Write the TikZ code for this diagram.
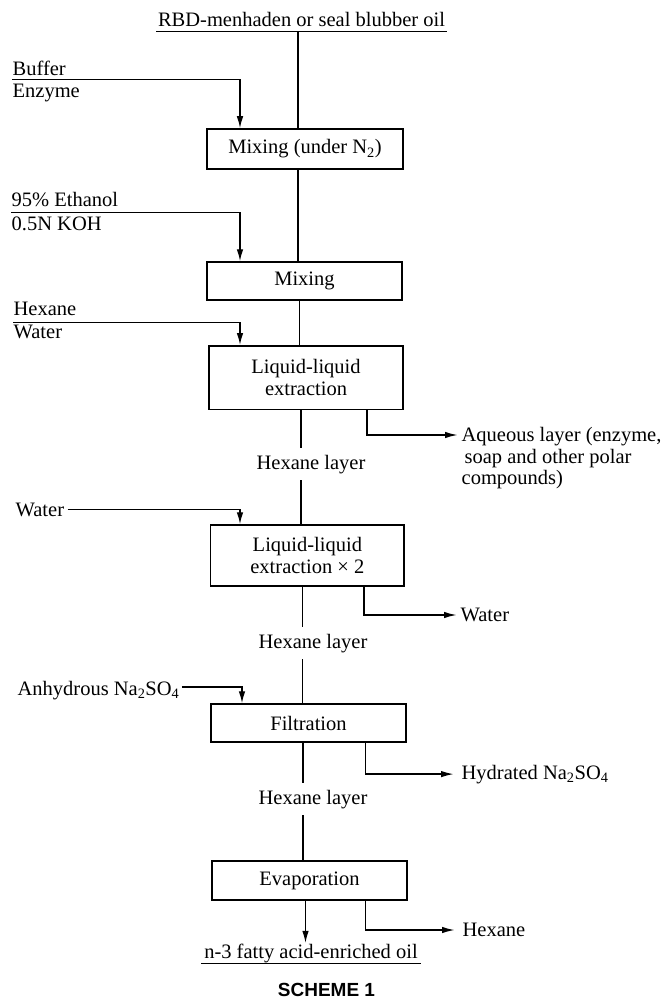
\documentclass[tikz,border=0pt]{standalone}
\usepackage{fontspec}
\setmainfont{Liberation Serif}
\newfontfamily\schemefont{Liberation Sans}
\usetikzlibrary{arrows.meta,calc}
\begin{document}
\begin{tikzpicture}[x=1pt,y=-1pt, line width=1.3pt,
  font=\fontsize{20.5}{21.5}\selectfont,
  box/.style={draw, line width=1.5pt, inner sep=0pt, align=center},
  lbl/.style={inner sep=0pt},
  hl/.style={inner xsep=0pt, inner ysep=6pt, anchor=base},
  arr/.style={-{Latex[length=12pt,width=6.5pt]}},
  outarr/.style={line width=1.7pt, -{Latex[length=13pt,width=6.5pt]}}]
\useasboundingbox[fill=white] (0,0) rectangle (661,1000);

% source and product
\node[lbl, anchor=base, minimum width=289pt, text depth=4pt] (src) at (301.5,26.7) {RBD-menhaden or seal blubber oil};
\draw (src.south west) -- (src.south east);
\node[lbl, anchor=base, minimum width=218pt, text depth=4.7pt] (oil) at (311,958) {n-3 fatty acid-enriched oil};
\draw (oil.south west) -- (oil.south east);
\node[lbl, anchor=base, font=\schemefont\bfseries\fontsize{19}{19}\selectfont] (sch) at (326.5,996) {SCHEME 1};

% process boxes
\node[box, minimum width=196pt, minimum height=40pt] (b1) at (305,149) {Mixing (under N\textsubscript{2})};
\node[box, minimum width=195pt, minimum height=38pt] (b2) at (304.5,281) {Mixing};
\node[box, minimum width=194pt, minimum height=63.5pt] (b3) at (306,377.5) {Liquid-liquid\\extraction};
\node[box, minimum width=193.5pt, minimum height=61pt] (b4) at (307.4,555.5) {Liquid-liquid\\extraction × 2};
\node[box, minimum width=195pt, minimum height=38pt] (b5) at (308.5,723) {Filtration};
\node[box, minimum width=195pt, minimum height=39pt] (b6) at (309.5,880.5) {Evaporation};

% intermediate labels
\node[hl] (h1) at (311,469) {Hexane layer};
\node[hl] (h2) at (313,648) {Hexane layer};
\node[hl] (h3) at (313,804) {Hexane layer};

% main stream
\coordinate (c0) at ([xshift=-7pt]b1.north);
\draw (c0) -- (c0 |- src.south);
\coordinate (c1) at ([xshift=-7pt]b1.south);
\draw (c1) -- (c1 |- b2.north);
\coordinate (c2) at ([xshift=-5pt]b2.south);
\draw (c2) -- (c2 |- b3.north);
\coordinate (c3) at ([xshift=-5pt]b3.south);
\draw (c3) -- (c3 |- h1.north);
\draw (c3 |- h1.south) -- (c3 |- b4.north);
\coordinate (c4) at ([xshift=-4.7pt]b4.south);
\draw (c4) -- (c4 |- h2.north);
\draw (c4 |- h2.south) -- (c4 |- b5.north);
\coordinate (c5) at ([xshift=-5.5pt]b5.south);
\draw (c5) -- (c5 |- h3.north);
\draw (c5 |- h3.south) -- (c5 |- b6.north);
\coordinate (c6) at ([xshift=-4pt]b6.south);
\draw[arr] (c6) -- (c6 |- oil.north);

% inputs
\node[lbl, anchor=base west, text depth=3.7pt] (buf) at (12,75.3) {Buffer};
\node[lbl, anchor=base west] (enz) at (12,98) {Enzyme};
\draw[arr] (buf.south west) -| ([xshift=-65pt]b1.north);

\node[lbl, anchor=base west, text depth=5pt] (eth) at (11,207) {95\% Ethanol};
\node[lbl, anchor=base west] (koh) at (11,230) {0.5N KOH};
\draw[arr] (eth.south west) -| ([xshift=-64.5pt]b2.north);

\node[lbl, anchor=base west, text depth=6.5pt] (hex) at (13,315.3) {Hexane};
\node[lbl, anchor=base west] (wat) at (13,338) {Water};
\draw[arr] (hex.south west) -| ([xshift=-66pt]b3.north);

\node[lbl, anchor=base west] (w2) at (15,516) {Water};
\draw[arr] ([xshift=3pt]w2.east) -| ([xshift=-67.4pt]b4.north);

\node[lbl, anchor=base west] (anh) at (17,695) {Anhydrous Na\textsubscript{2}SO\textsubscript{4}};
\draw[arr] ([xshift=2pt,yshift=3pt]anh.east) -| ([xshift=-66.5pt]b5.north);

% outputs
\node[lbl, anchor=north west, align=left] (aq) at (461,427) {Aqueous layer (enzyme,\\\hspace*{3pt}soap and other polar\\compounds)};
\draw[outarr] ([xshift=60.7pt]b3.south) |- ([xshift=-3pt,yshift=-8pt]aq.north west);

\node[lbl, anchor=west] (wo) at (460,615) {Water};
\draw[outarr] ([xshift=56.6pt]b4.south) |- ([xshift=-3pt]wo.west);

\node[lbl, anchor=base west] (hyd) at (461,779) {Hydrated Na\textsubscript{2}SO\textsubscript{4}};
\draw[outarr] ([xshift=57pt]b5.south) |- ([xshift=-7pt]hyd.west);

\node[lbl, anchor=west] (hx) at (462,930) {Hexane};
\draw[outarr] ([xshift=56pt]b6.south) |- ([xshift=-7pt]hx.west);
\end{tikzpicture}
\end{document}
